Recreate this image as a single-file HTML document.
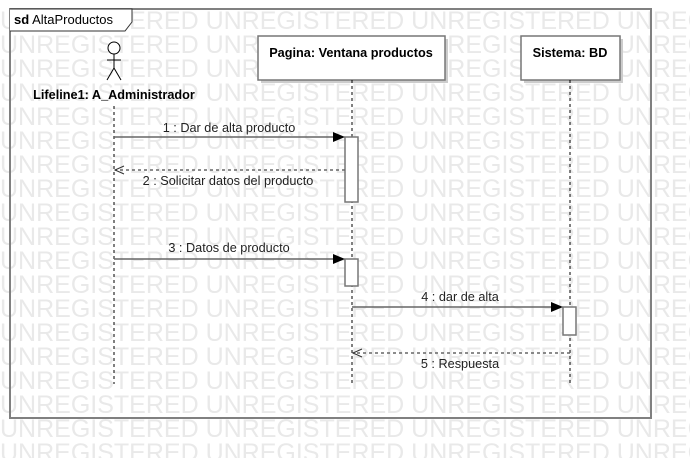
<!DOCTYPE html><html><head><meta charset="utf-8"><style>body{margin:0;background:#fff}svg{display:block}</style></head><body>
<svg width="690" height="458" xmlns="http://www.w3.org/2000/svg" font-family="Liberation Sans, sans-serif">
<rect width="690" height="458" fill="#fff"/>
<g fill="#e9e9e9" font-size="25">
<text x="0" y="29">UNREGISTERED UNREGISTERED UNREGISTERED UNREGI</text>
<text x="0" y="53">UNREGISTERED UNREGISTERED UNREGISTERED UNREGI</text>
<text x="0" y="77">UNREGISTERED UNREGISTERED UNREGISTERED UNREGI</text>
<text x="0" y="101">UNREGISTERED UNREGISTERED UNREGISTERED UNREGI</text>
<text x="0" y="125">UNREGISTERED UNREGISTERED UNREGISTERED UNREGI</text>
<text x="0" y="149">UNREGISTERED UNREGISTERED UNREGISTERED UNREGI</text>
<text x="0" y="173">UNREGISTERED UNREGISTERED UNREGISTERED UNREGI</text>
<text x="0" y="197">UNREGISTERED UNREGISTERED UNREGISTERED UNREGI</text>
<text x="0" y="221">UNREGISTERED UNREGISTERED UNREGISTERED UNREGI</text>
<text x="0" y="245">UNREGISTERED UNREGISTERED UNREGISTERED UNREGI</text>
<text x="0" y="269">UNREGISTERED UNREGISTERED UNREGISTERED UNREGI</text>
<text x="0" y="293">UNREGISTERED UNREGISTERED UNREGISTERED UNREGI</text>
<text x="0" y="317">UNREGISTERED UNREGISTERED UNREGISTERED UNREGI</text>
<text x="0" y="341">UNREGISTERED UNREGISTERED UNREGISTERED UNREGI</text>
<text x="0" y="365">UNREGISTERED UNREGISTERED UNREGISTERED UNREGI</text>
<text x="0" y="389">UNREGISTERED UNREGISTERED UNREGISTERED UNREGI</text>
<text x="0" y="413">UNREGISTERED UNREGISTERED UNREGISTERED UNREGI</text>
<text x="0" y="437">UNREGISTERED UNREGISTERED UNREGISTERED UNREGI</text>
<text x="0" y="461">UNREGISTERED UNREGISTERED UNREGISTERED UNREGI</text>
</g>
<rect x="10" y="9" width="641" height="409" fill="none" stroke="#808080" stroke-width="2"/>
<path d="M10 9 H132 V22 L125 31 H10" fill="#fff" stroke="#333" stroke-width="1"/>
<text x="14" y="24" font-size="13"><tspan font-weight="bold">sd</tspan>  AltaProductos</text>
<g stroke="#000" fill="none" stroke-width="1">
<circle cx="114" cy="48" r="6" fill="#fff"/>
<line x1="114" y1="54" x2="114" y2="68"/><line x1="107" y1="60" x2="121" y2="60"/>
<line x1="114" y1="68" x2="107" y2="80"/><line x1="114" y1="68" x2="121" y2="80"/>
</g>
<text x="114" y="99" font-size="12.7" font-weight="bold" text-anchor="middle">Lifeline1: A_Administrador</text>
<rect x="261" y="39" width="187" height="44" fill="#ccc"/>
<rect x="258" y="36" width="187" height="44" fill="#fff" stroke="#777" stroke-width="1.5"/>
<text x="351" y="57" font-size="12.7" font-weight="bold" text-anchor="middle">Pagina: Ventana productos</text>
<rect x="524" y="39" width="99" height="44" fill="#ccc"/>
<rect x="521" y="36" width="99" height="44" fill="#fff" stroke="#777" stroke-width="1.5"/>
<text x="570" y="57" font-size="12.7" font-weight="bold" text-anchor="middle">Sistema: BD</text>
<g stroke="#000" stroke-dasharray="3,3" stroke-width="1">
<line x1="114" y1="106" x2="114" y2="384"/>
<line x1="352" y1="80" x2="352" y2="384"/>
<line x1="570" y1="80" x2="570" y2="384"/>
</g>
<g fill="#fff" stroke="#777" stroke-width="1.5">
<rect x="345" y="137" width="13" height="65"/>
<rect x="345" y="259" width="13" height="27"/>
<rect x="563" y="307" width="13" height="28"/>
</g>
<g stroke="#666" stroke-width="1.5">
<line x1="114" y1="137" x2="336" y2="137"/>
<line x1="114" y1="259" x2="336" y2="259"/>
<line x1="352" y1="307" x2="554" y2="307"/>
<line x1="345" y1="170" x2="115" y2="170" stroke-dasharray="3,3"/>
<line x1="570" y1="353" x2="353" y2="353" stroke-dasharray="3,3"/>
</g>
<g fill="#000">
<polygon points="333,132 345,137 333,142"/>
<polygon points="333,254 345,259 333,264"/>
<polygon points="551,302 563,307 551,312"/>
</g>
<g fill="none" stroke="#333" stroke-width="1">
<polyline points="124,166 115,170 124,174"/>
<polyline points="362,349 353,353 362,357"/>
</g>
<g font-size="12.7" fill="#222" text-anchor="middle">
<text x="229" y="132">1 : Dar de alta producto</text>
<text x="228" y="185">2 : Solicitar datos del producto</text>
<text x="229" y="252">3 : Datos de producto</text>
<text x="460" y="301">4 : dar de alta</text>
<text x="460" y="368">5 : Respuesta</text>
</g>
</svg>
</body></html>
